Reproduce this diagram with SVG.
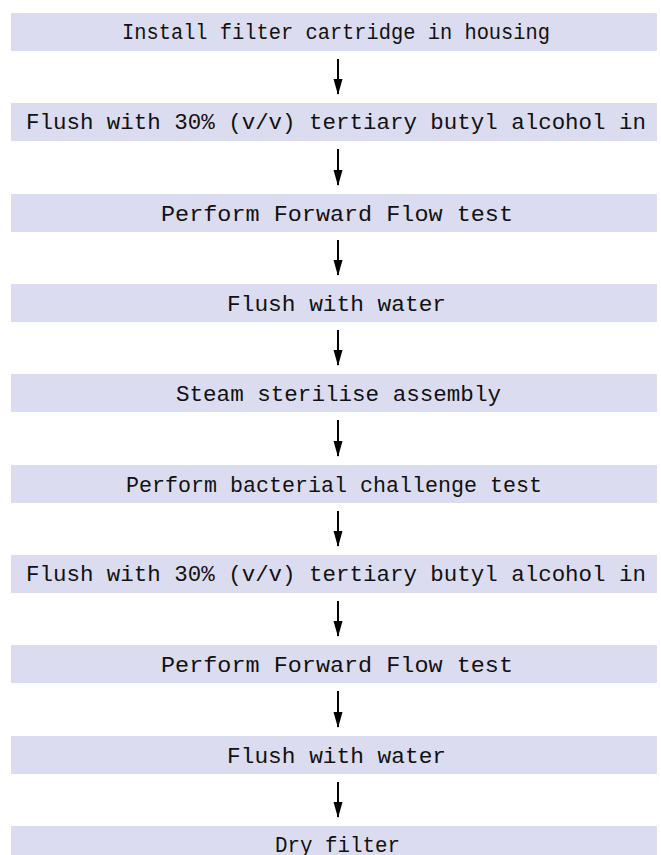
<svg xmlns="http://www.w3.org/2000/svg" width="661" height="855" viewBox="0 0 661 855">
<style>
.box{fill:#dcdcf0;stroke:none}
.lbl{font-family:"Liberation Mono","Courier New",monospace;font-size:22px;fill:#111}
.arr{stroke:#000;stroke-width:2;fill:none}
</style>
<defs>
<marker id="ah" markerUnits="userSpaceOnUse" markerWidth="16" markerHeight="10" refX="15" refY="5" orient="auto" viewBox="0 0 16 10">
<path d="M0,0.5 L16,5 L0,9.5 Z" fill="#000"/>
</marker>
</defs>
<rect width="661" height="855" fill="#fff"/>
<g id="n1"><rect class="box" x="11" y="13" width="646" height="38"/><text class="lbl" x="122" y="39" textLength="428" lengthAdjust="spacingAndGlyphs">Install filter cartridge in housing</text></g>
<g id="n2"><rect class="box" x="11" y="103" width="646" height="38"/><text class="lbl" x="26" y="129" textLength="620" lengthAdjust="spacingAndGlyphs">Flush with 30% (v/v) tertiary butyl alcohol in</text></g>
<g id="n3"><rect class="box" x="11" y="194" width="646" height="38"/><text class="lbl" x="161" y="221" textLength="352" lengthAdjust="spacingAndGlyphs">Perform Forward Flow test</text></g>
<g id="n4"><rect class="box" x="11" y="284" width="646" height="38"/><text class="lbl" x="227" y="311" textLength="219" lengthAdjust="spacingAndGlyphs">Flush with water</text></g>
<g id="n5"><rect class="box" x="11" y="374" width="646" height="38"/><text class="lbl" x="176" y="401" textLength="325" lengthAdjust="spacingAndGlyphs">Steam sterilise assembly</text></g>
<g id="n6"><rect class="box" x="11" y="465" width="646" height="38"/><text class="lbl" x="126" y="492" textLength="416" lengthAdjust="spacingAndGlyphs">Perform bacterial challenge test</text></g>
<g id="n7"><rect class="box" x="11" y="555" width="646" height="38"/><text class="lbl" x="26" y="581" textLength="620" lengthAdjust="spacingAndGlyphs">Flush with 30% (v/v) tertiary butyl alcohol in</text></g>
<g id="n8"><rect class="box" x="11" y="645" width="646" height="38"/><text class="lbl" x="161" y="672" textLength="352" lengthAdjust="spacingAndGlyphs">Perform Forward Flow test</text></g>
<g id="n9"><rect class="box" x="11" y="736" width="646" height="38"/><text class="lbl" x="227" y="763" textLength="219" lengthAdjust="spacingAndGlyphs">Flush with water</text></g>
<g id="n10"><rect class="box" x="11" y="826" width="646" height="38"/><text class="lbl" x="275" y="852" textLength="125" lengthAdjust="spacingAndGlyphs">Dry filter</text></g>
<g id="connectors">
<path class="arr" d="M338,59 V94" marker-end="url(#ah)"/>
<path class="arr" d="M338,149 V185" marker-end="url(#ah)"/>
<path class="arr" d="M338,240 V275" marker-end="url(#ah)"/>
<path class="arr" d="M338,330 V365" marker-end="url(#ah)"/>
<path class="arr" d="M338,420 V456" marker-end="url(#ah)"/>
<path class="arr" d="M338,511 V546" marker-end="url(#ah)"/>
<path class="arr" d="M338,601 V636" marker-end="url(#ah)"/>
<path class="arr" d="M338,691 V727" marker-end="url(#ah)"/>
<path class="arr" d="M338,782 V817" marker-end="url(#ah)"/>
</g>
</svg>
